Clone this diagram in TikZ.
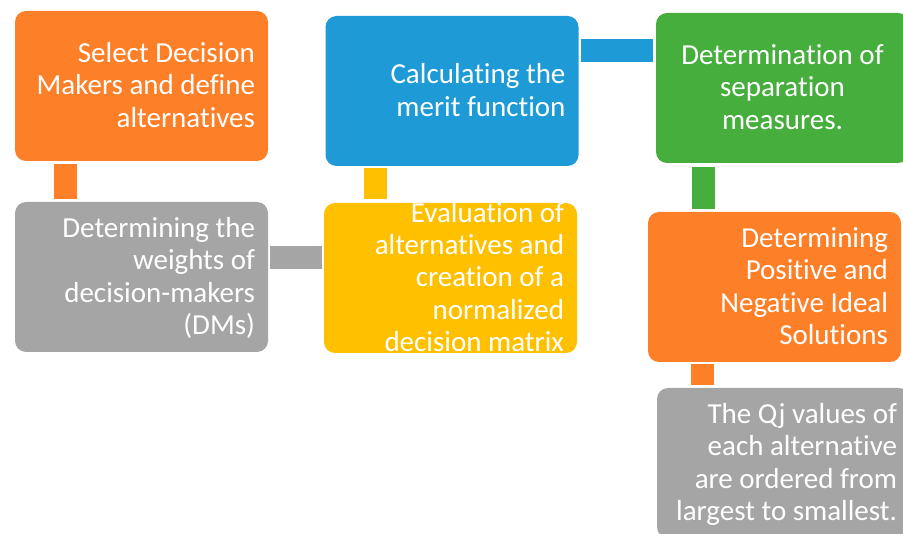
\documentclass[tikz,border=0pt]{standalone}
\usepackage{fontspec}
\setmainfont{Carlito}[Ligatures={NoCommon}]
\definecolor{flowOrange}{HTML}{FD7F27}
\definecolor{flowBlue}{HTML}{1E9BD7}
\definecolor{flowGreen}{HTML}{45AE3D}
\definecolor{flowYellow}{HTML}{FFC000}
\definecolor{flowGrey}{HTML}{A5A5A5}
% fixed-size text block of a step box; optional argument sets the alignment
\newcommand{\steptext}[2][\raggedleft]{\parbox[c][150pt][c]{227pt}{#1\fontsize{29pt}{32.3pt}\selectfont\rule{0pt}{26pt}#2\rule[-8pt]{0pt}{8pt}}}
\tikzset{
  stepbox/.style={rounded corners=11pt, inner xsep=13pt, inner ysep=0pt,
    minimum height=150pt, text=white, anchor=center},
  bar/.style={line width=23pt, line cap=butt}
}
\begin{document}
\begin{tikzpicture}[x=1pt,y=-1pt]
\useasboundingbox (0,0) rectangle (903,534);
\clip (0,0) rectangle (903,534);

% steps
\node[stepbox, fill=flowOrange] (b1) at (141.5,86)
  {\steptext{Select Decision\\Makers and define\\alternatives}};
\node[stepbox, fill=flowGrey] (b2) at (141.5,277)
  {\steptext{Determining the\\weights of\\decision-makers\\(DMs)}};
\node[stepbox, fill=flowYellow] (b3) at (450.5,278)
  {\steptext{Evaluation of\\alternatives and\\creation of a\\normalized\\decision matrix}};
\node[stepbox, fill=flowBlue] (b4) at (452,91)
  {\steptext{Calculating the\\merit function}};
\node[stepbox, fill=flowGreen] (b5) at (782.5,88)
  {\steptext[\centering]{Determination of\\separation\\measures.}};
\node[stepbox, fill=flowOrange] (b6) at (774.5,287)
  {\steptext{Determining\\Positive and\\Negative Ideal\\Solutions}};
\node[stepbox, fill=flowGrey] (b7) at (783.5,463)
  {\steptext{The Qj values of\\each alternative\\are ordered from\\largest to smallest.}};

% connecting bars
\coordinate (c1) at ([xshift=51pt]b1.south west);
\draw[bar, flowOrange, shorten <=3pt, shorten >=3pt] (c1) -- (c1 |- b2.north);
\coordinate (c2) at ([yshift=-55.5pt]b2.north east);
\draw[bar, flowGrey, shorten <=2pt, shorten >=2pt] (c2) -- (c2 -| b3.west);
\coordinate (c3) at ([xshift=51.5pt]b3.north west);
\draw[bar, flowYellow, shorten <=4pt, shorten >=2pt] (c3) -- (c3 |- b4.south);
\coordinate (c4) at ([yshift=-34.5pt]b4.north east);
\draw[bar, flowBlue, shorten <=2pt, shorten >=3pt] (c4) -- (c4 -| b5.west);
\coordinate (c5) at ([xshift=47.5pt]b5.south west);
\draw[bar, flowGreen, shorten <=4pt, shorten >=3pt] (c5) -- (c5 |- b6.north);
\coordinate (c6) at ([xshift=54.5pt]b6.south west);
\draw[bar, flowOrange, shorten <=2pt, shorten >=3pt] (c6) -- (c6 |- b7.north);
\end{tikzpicture}
\end{document}
